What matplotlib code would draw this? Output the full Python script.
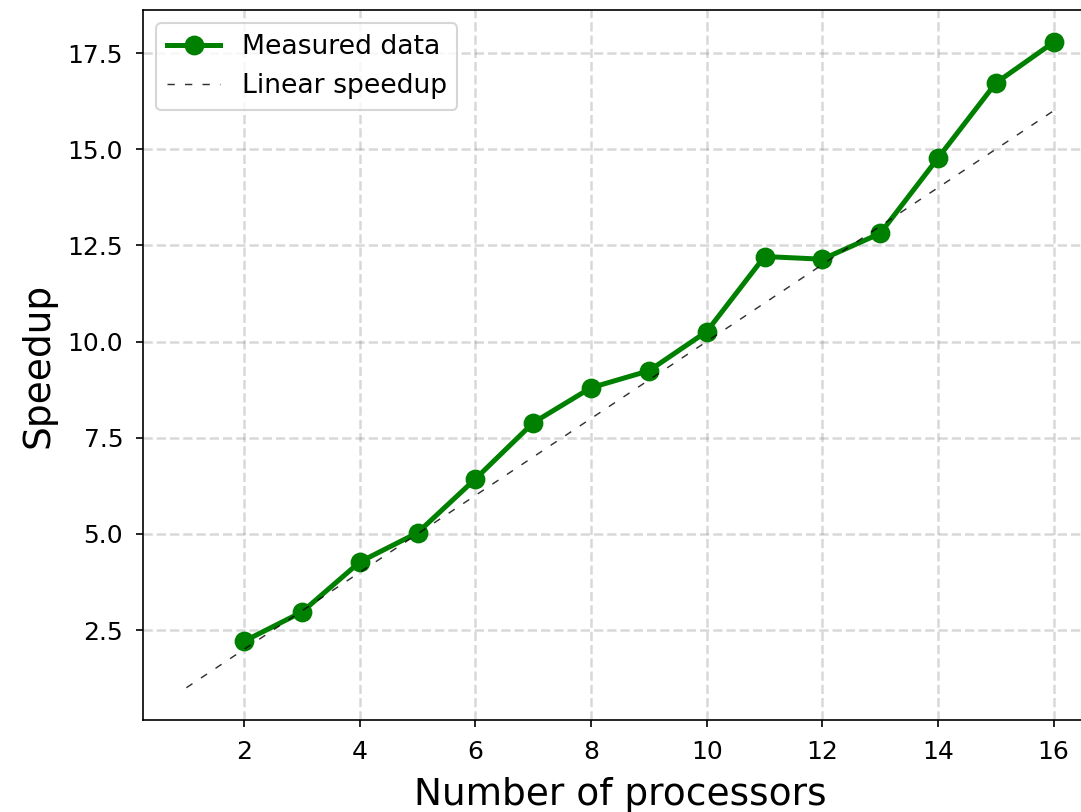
import numpy as np
import matplotlib
matplotlib.use("Agg")
import matplotlib.pyplot as plt

# processors vs measured speedup
procs = [2, 3, 4, 5, 6, 7, 8, 9, 10, 11, 12, 13, 14, 15, 16]
speedup = [2.21, 2.97, 4.27, 5.03, 6.43, 7.89, 8.80, 9.24, 10.26,
           12.21, 12.14, 12.81, 14.77, 16.72, 17.78]

# ideal linear speedup
ideal_p = [1, 16]
ideal_s = [1, 16]

fig = plt.figure(figsize=(1081 / 150, 812 / 150), dpi=150)
ax = fig.add_axes([0.1323, 0.1133, 0.8825, 0.8744])

ax.plot(procs, speedup, color="green", marker="o", lw=2.4, ms=8.5,
        label="Measured data")
ax.plot(ideal_p, ideal_s, color="black", ls="--", lw=0.7, alpha=0.8,
        dashes=(5, 7), label="Linear speedup")

ax.grid(True, ls="--", color="gray", alpha=0.3, lw=1.2)
ax.tick_params(labelsize=12, pad=6)
ax.set_xticks([2, 4, 6, 8, 10, 12, 14, 16])
ax.set_xlabel("Number of processors", fontsize=18, labelpad=6.5)
ax.set_ylabel("Speedup", fontsize=18, labelpad=5.5)
ax.legend(loc="upper left", fontsize=12.8)

fig.savefig("out.png", dpi=150)
